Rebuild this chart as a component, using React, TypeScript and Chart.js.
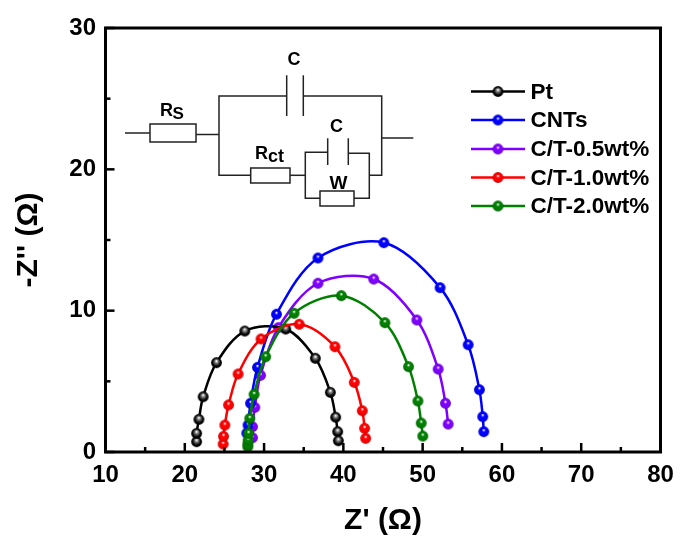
import React, { useEffect, useRef } from "react";
import { Chart, registerables } from "chart.js";

Chart.register(...registerables);

const FONT = '"Liberation Sans", Arial, sans-serif';

const seriesNames = ["Pt", "CNTs", "C/T-0.5wt%", "C/T-1.0wt%", "C/T-2.0wt%"];
const seriesColors = ["#000000", "#0000ff", "#7f00ff", "#ff0000", "#008000"];
const drawOrder = [4, 3, 5, 2, 1];

const ptX = [21.49, 21.49, 21.78, 22.32, 24.0, 27.57, 32.73, 36.47, 38.36, 39.03, 39.28, 39.37];
const ptY = [0.73, 1.32, 2.31, 3.91, 6.32, 8.56, 8.7, 6.63, 4.22, 2.46, 1.44, 0.8];
const cntX = [27.82, 27.98, 28.29, 29.17, 31.56, 36.8, 45.11, 52.2, 55.74, 57.16, 57.58, 57.71];
const cntY = [1.34, 1.91, 3.45, 5.99, 9.75, 13.73, 14.81, 11.63, 7.59, 4.41, 2.5, 1.44];
const ct05X = [28.54, 28.54, 28.83, 29.55, 31.8, 36.8, 43.83, 49.27, 51.96, 52.88, 53.22];
const ct05Y = [1.01, 1.79, 3.16, 5.43, 8.8, 11.94, 12.24, 9.34, 5.87, 3.45, 1.98];
const ct10X = [24.84, 24.89, 25.05, 25.52, 26.72, 29.62, 34.43, 38.94, 41.38, 42.39, 42.68, 42.81];
const ct10Y = [0.57, 1.11, 1.91, 3.33, 5.52, 8.0, 9.04, 7.45, 4.93, 2.92, 1.68, 0.97];
const ct20X = [27.95, 27.95, 27.99, 28.04, 28.2, 28.74, 30.2, 33.78, 39.75, 45.24, 48.22, 49.4, 49.82, 50.02];
const ct20Y = [0.37, 0.57, 0.85, 1.32, 2.38, 4.08, 6.74, 9.82, 11.06, 9.15, 6.04, 3.61, 2.05, 1.13];

const seriesX = [ptX, cntX, ct05X, ct10X, ct20X];
const seriesY = [ptY, cntY, ct05Y, ct10Y, ct20Y];

const xMajor = [10, 20, 30, 40, 50, 60, 70, 80];
const xMinor = [15, 25, 35, 45, 55, 65, 75];
const yMajor = [0, 10, 20, 30];
const yMinor = [5, 15, 25];

const shade = (hex: string, f: number) => {
  const n = parseInt(hex.slice(1), 16);
  const c = (s: number) => Math.round(((n >> s) & 255) * f);
  return `rgb(${c(16)},${c(8)},${c(0)})`;
};

function sphere(color: string) {
  const s = 13;
  const cv = document.createElement("canvas");
  cv.width = s;
  cv.height = s;
  const g = cv.getContext("2d")!;
  const grad = g.createRadialGradient(6.5, 4.8, 0.3, 6.5, 6.5, 5.6);
  grad.addColorStop(0, "#ffffff");
  grad.addColorStop(0.28, color === "#000000" ? "#777777" : color);
  grad.addColorStop(0.7, color);
  grad.addColorStop(1, shade(color, 0.7));
  g.fillStyle = grad;
  g.beginPath();
  g.arc(6.5, 6.5, 5.4, 0, Math.PI * 2);
  g.fill();
  return cv;
}

const frame = {
  id: "frame",
  afterDatasetsDraw(chart: any) {
    const { ctx, chartArea: a, scales } = chart;
    ctx.save();
    ctx.strokeStyle = "#000";
    ctx.lineWidth = 2.5;
    const tick = (px: number, horizontal: boolean, len: number) => {
      ctx.beginPath();
      if (horizontal) {
        ctx.moveTo(px, a.bottom);
        ctx.lineTo(px, a.bottom - len);
      } else {
        ctx.moveTo(a.left, px);
        ctx.lineTo(a.left + len, px);
      }
      ctx.stroke();
    };
    xMajor.forEach((v) => tick(scales.x.getPixelForValue(v), true, 9));
    xMinor.forEach((v) => tick(scales.x.getPixelForValue(v), true, 5));
    yMajor.forEach((v) => tick(scales.y.getPixelForValue(v), false, 9));
    yMinor.forEach((v) => tick(scales.y.getPixelForValue(v), false, 5));
    ctx.lineWidth = 3;
    ctx.strokeRect(a.left, a.top, a.right - a.left, a.bottom - a.top);
    ctx.restore();
  },
};

const legendBox = {
  id: "legendBox",
  afterDraw(chart: any) {
    const { ctx } = chart;
    const rowY = [91.5, 120, 149, 177.5, 206];
    ctx.save();
    seriesNames.forEach((name, i) => {
      ctx.strokeStyle = seriesColors[i];
      ctx.lineWidth = 2.5;
      ctx.beginPath();
      ctx.moveTo(471, rowY[i]);
      ctx.lineTo(525, rowY[i]);
      ctx.stroke();
      ctx.drawImage(sphere(seriesColors[i]), 498 - 6.5, rowY[i] - 6.5);
      ctx.fillStyle = "#000";
      ctx.font = `bold 22.5px ${FONT}`;
      ctx.textAlign = "left";
      ctx.textBaseline = "middle";
      ctx.fillText(name, 530.5, rowY[i] + 1);
    });
    ctx.restore();
  },
};

const circuit = {
  id: "circuit",
  afterDraw(chart: any) {
    const { ctx } = chart;
    const path = (...p: number[]) => {
      ctx.beginPath();
      ctx.moveTo(p[0], p[1]);
      for (let i = 2; i < p.length; i += 2) ctx.lineTo(p[i], p[i + 1]);
      ctx.stroke();
    };
    ctx.save();
    ctx.strokeStyle = "#222";
    ctx.lineWidth = 1.5;
    path(125, 133, 150, 133);
    ctx.strokeRect(150, 124, 46, 18);
    path(196, 134.5, 219, 134.5);
    path(286.7, 96, 219, 96, 219, 175.3, 250.7, 175.3);
    path(286.7, 75.3, 286.7, 116);
    path(303.3, 75.3, 303.3, 116);
    path(303.3, 96, 381.7, 96, 381.7, 175.3, 369.3, 175.3);
    path(381.7, 138, 413.3, 138);
    ctx.strokeRect(250.7, 168, 39.3, 15);
    path(290, 175.3, 305.3, 175.3);
    path(327.7, 152.3, 305.3, 152.3, 305.3, 198.3, 320, 198.3);
    path(327.7, 138.3, 327.7, 165);
    path(348.3, 138.3, 348.3, 165);
    path(348.3, 153.3, 369.3, 153.3, 369.3, 198.3, 354, 198.3);
    ctx.strokeRect(320, 191, 34, 15);

    ctx.fillStyle = "#000";
    ctx.textBaseline = "alphabetic";
    ctx.textAlign = "left";
    const label = (t: string, x: number, y: number, size: number) => {
      ctx.font = `bold ${size}px ${FONT}`;
      ctx.fillText(t, x, y);
    };
    label("C", 287.5, 65, 18);
    label("R", 160, 116, 18);
    label("S", 172.5, 119, 17);
    label("R", 255, 159, 18);
    label("ct", 268, 162, 18);
    label("C", 330, 132, 18);
    label("W", 329.5, 188.5, 19);
    ctx.restore();
  },
};

export default function App() {
  const ref = useRef<HTMLCanvasElement>(null);
  useEffect(() => {
    const chart = new Chart(ref.current!, {
      type: "scatter",
      data: {
        datasets: seriesNames.map((name, i) => ({
          label: name,
          data: seriesX[i].map((x, k) => ({ x, y: seriesY[i][k] })),
          showLine: true,
          order: drawOrder[i],
          borderColor: seriesColors[i],
          borderWidth: 2.5,
          tension: 0.33,
          pointStyle: sphere(seriesColors[i]),
          clip: false,
        })),
      },
      plugins: [frame, legendBox, circuit],
      options: {
        animation: false,
        responsive: false,
        layout: { padding: { top: 28, right: 19.5, left: 0, bottom: 0 } },
        plugins: { legend: { display: false }, tooltip: { enabled: false } },
        scales: {
          x: {
            type: "linear",
            min: 10,
            max: 80,
            grid: { display: false, drawTicks: false },
            border: { display: false },
            afterFit(s: any) {
              s.height = 87;
              s.paddingLeft = 0;
              s.paddingRight = 0;
            },
            ticks: {
              stepSize: 10,
              padding: 8.6,
              maxRotation: 0,
              color: "#000",
              font: { family: FONT, size: 24, weight: "bold" },
            },
            title: {
              display: true,
              text: "Z' (Ω)",
              color: "#000",
              padding: { top: 0, bottom: 0 },
              font: { family: FONT, size: 30, weight: "bold" },
            },
          },
          y: {
            type: "linear",
            min: 0,
            max: 30,
            grid: { display: false, drawTicks: false },
            border: { display: false },
            afterFit(s: any) {
              s.width = 105.5;
              s.paddingTop = 0;
              s.paddingBottom = 0;
            },
            ticks: {
              stepSize: 10,
              padding: 9.5,
              color: "#000",
              font: { family: FONT, size: 24, weight: "bold" },
            },
            title: {
              display: true,
              text: "-Z'' (Ω)",
              color: "#000",
              padding: { top: 11, bottom: 0 },
              font: { family: FONT, size: 30, weight: "bold" },
            },
          },
        },
      },
    } as any);
    return () => chart.destroy();
  }, []);
  return (
    <canvas
      ref={ref}
      width={680}
      height={539}
      style={{ position: "absolute", left: 0, top: 0, width: 680, height: 539, display: "block" }}
    />
  );
}
